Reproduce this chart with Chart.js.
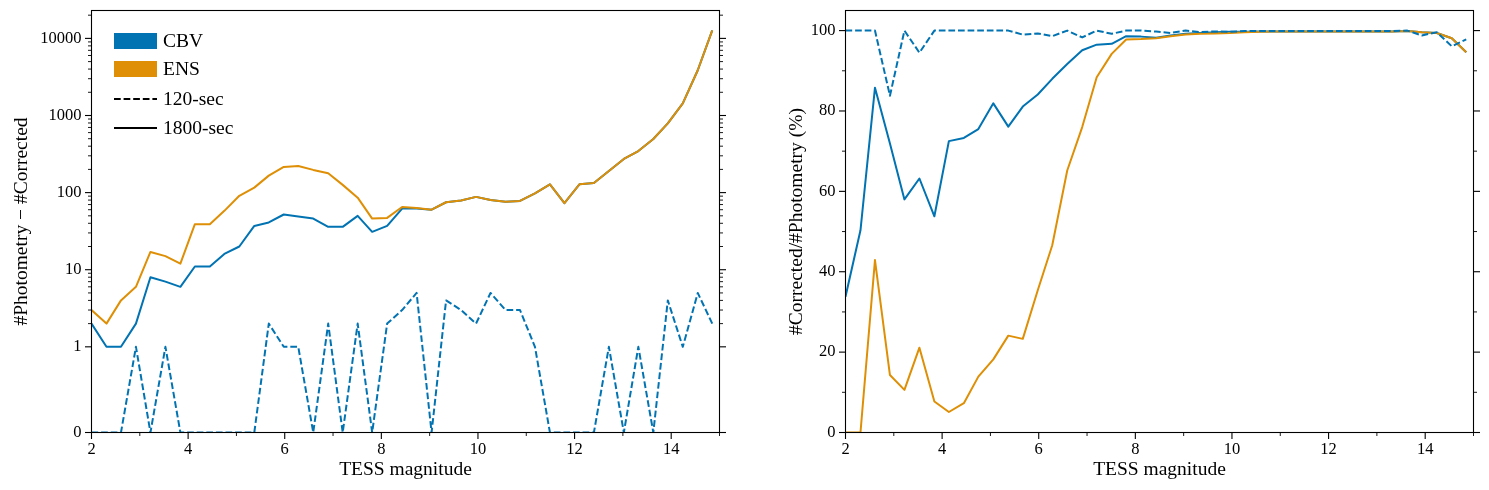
<!DOCTYPE html>
<html><head><meta charset="utf-8">
<script src="https://cdn.jsdelivr.net/npm/chart.js@4"></script>
<style>
html,body{margin:0;padding:0;background:#fff;}
#wrap{position:relative;width:1489px;height:490px;overflow:hidden;}
canvas{position:absolute;top:0;}
</style></head><body>
<div id="wrap">
<canvas id="left" width="745" height="490" style="left:0;width:745px;height:490px"></canvas>
<canvas id="right" width="744" height="490" style="left:745px;width:744px;height:490px"></canvas>
</div>
<script>
// ---------- data ----------
const magnitudes = [2.00, 2.31, 2.61, 2.92, 3.22, 3.53, 3.84, 4.14, 4.45, 4.75,
  5.06, 5.37, 5.67, 5.98, 6.28, 6.59, 6.90, 7.20, 7.51, 7.81,
  8.12, 8.43, 8.73, 9.04, 9.34, 9.65, 9.96, 10.26, 10.57, 10.87,
  11.18, 11.49, 11.79, 12.10, 12.40, 12.71, 13.02, 13.32, 13.63, 13.93,
  14.24, 14.55, 14.85];

// Left panel: #Photometry - #Corrected
const cbvMissing1800 = [2, 1, 1, 2, 8, 7, 6, 11, 11, 16,
  20, 37, 41, 52, 49, 46, 36, 36, 50, 31,
  37, 62, 62, 60, 75, 79, 88, 80, 76, 78,
  98, 128, 73, 128, 133, 191, 273, 346, 495, 790,
  1435, 3866, 12730];
const ensMissing1800 = [3, 2, 4, 6, 17, 15, 12, 39, 39, 58,
  91, 116, 166, 215, 221, 197, 178, 126, 86, 46,
  47, 65, 63, 60, 75, 79, 88, 80, 76, 78,
  98, 128, 73, 128, 133, 191, 273, 346, 495, 790,
  1435, 3866, 12730];
const cbvMissing120 = [0, 0, 0, 1, 0, 1, 0, 0, 0, 0,
  0, 0, 2, 1, 1, 0, 2, 0, 2, 0,
  2, 3, 5, 0, 4, 3, 2, 5, 3, 3,
  1, 0, 0, 0, 0, 1, 0, 1, 0, 4,
  1, 5, 2];

// Right panel: #Corrected / #Photometry (%)
const cbvPct1800 = [33.8, 50.3, 85.8, 71.9, 58.0, 63.2, 53.8, 72.5, 73.3, 75.5,
  81.9, 76.1, 81.1, 84.1, 88.0, 91.7, 95.1, 96.5, 96.7, 98.6,
  98.5, 98.2, 98.8, 99.2, 99.4, 99.6, 99.7, 99.7, 99.8, 99.8,
  99.8, 99.8, 99.8, 99.8, 99.8, 99.8, 99.8, 99.8, 99.9, 99.6,
  99.4, 98.1, 94.6];
const ensPct1800 = [0, 0, 42.9, 14.3, 10.6, 21.1, 7.7, 5.1, 7.3, 13.9,
  18.2, 24.1, 23.3, 35.4, 46.6, 65.2, 76.0, 88.4, 94.2, 97.8,
  97.9, 98.1, 98.6, 99.0, 99.2, 99.3, 99.4, 99.6, 99.7, 99.8,
  99.8, 99.8, 99.8, 99.8, 99.8, 99.8, 99.8, 99.8, 99.9, 99.6,
  99.4, 98.1, 94.6];
const cbvPct120 = [100, 100, 100, 83.8, 100, 94.5, 100, 100, 100, 100,
  100, 100, 99.0, 99.3, 98.6, 100, 98.3, 100, 99.2, 100,
  100, 99.75, 99.4, 100, 99.6, 99.8, 99.7, 99.9, 99.9, 99.9,
  99.9, 99.9, 99.9, 99.9, 99.9, 99.9, 99.9, 99.9, 100, 98.8,
  99.6, 96.1, 97.8];

// ticks
const xMajorTicks = [2, 4, 6, 8, 10, 12, 14];
const xMinorTicks = [3, 5, 7, 9, 11, 13, 15];
const leftYMajorTicks = [0, 1, 10, 100, 1000, 10000];
const leftYMinorTicks = [2,3,4,5,6,7,8,9, 20,30,40,50,60,70,80,90,
  200,300,400,500,600,700,800,900, 2000,3000,4000,5000,6000,7000,8000,9000, 20000];
const rightYMajorTicks = [0, 20, 40, 60, 80, 100];
const rightYMinorTicks = [10, 30, 50, 70, 90];

const legendLabels = ['CBV', 'ENS', '120-sec', '1800-sec'];

// ---------- style ----------
const BLUE = '#0173B2', ORANGE = '#DE8F05';
const SERIF = '"Liberation Serif", "DejaVu Serif", serif';
const DASH = [6.7, 2.9];

// ---------- symlog scale (linthresh 1, linscale 1, base 10) ----------
const LINSCALE = 1 / (1 - 1 / 10);
function symlog(v) {
  const a = Math.abs(v), s = Math.sign(v);
  return a <= 1 ? v * LINSCALE : s * (LINSCALE + Math.log10(a));
}
function invSymlog(t) {
  const a = Math.abs(t), s = Math.sign(t);
  return a <= LINSCALE ? t / LINSCALE : s * Math.pow(10, a - LINSCALE);
}
class SymlogScale extends Chart.LinearScale {
  configure() {
    super.configure();
    this._tS = symlog(this.min);
    this._tE = symlog(this.max);
  }
  getPixelForValue(value) {
    return this.getPixelForDecimal((symlog(value) - this._tS) / (this._tE - this._tS));
  }
  getValueForPixel(pixel) {
    return invSymlog(this._tS + this.getDecimalForPixel(pixel) * (this._tE - this._tS));
  }
}
SymlogScale.id = 'symlog';
SymlogScale.defaults = Chart.LinearScale.defaults;
Chart.register(SymlogScale);

function pts(arr) { return magnitudes.map((m, i) => ({x: m, y: arr[i]})); }

function frameTicks(yMajor, yMinor) {
  return {
    id: 'frameTicks',
    afterDatasetsDraw(chart) {
      const {ctx, chartArea: a, scales} = chart;
      const xs = scales.x, ys = scales.y;
      ctx.save();
      ctx.strokeStyle = '#000';
      ctx.lineWidth = 1.1;
      ctx.strokeRect(a.left, a.top, a.right - a.left, a.bottom - a.top);
      const line = (x1, y1, x2, y2) => { ctx.beginPath(); ctx.moveTo(x1, y1); ctx.lineTo(x2, y2); ctx.stroke(); };
      [[xMajorTicks, 6.5, 1.1], [xMinorTicks, 3.5, 0.9]].forEach(([vals, len, w]) => {
        ctx.lineWidth = w;
        vals.forEach(v => {
          const p = xs.getPixelForValue(v);
          if (p < a.left - 0.6 || p > a.right + 0.6) return;
          line(p, a.bottom, p, a.bottom + len);
        });
      });
      [[yMajor, 6.5, 1.1], [yMinor, 3.5, 0.9]].forEach(([vals, len, w]) => {
        ctx.lineWidth = w;
        vals.forEach(v => {
          const p = ys.getPixelForValue(v);
          if (p < a.top - 0.6 || p > a.bottom + 0.6) return;
          line(a.left, p, a.left - len, p);
          line(a.right, p, a.right + len, p);
        });
      });
      ctx.restore();
    }
  };
}

const legendPlugin = {
  id: 'insideLegend',
  afterDraw(chart) {
    const {ctx, chartArea: a} = chart;
    const x0 = a.left + 22.5, x1 = a.left + 65.5;
    const rows = [a.top + 30.5, a.top + 58.5, a.top + 88.5, a.top + 117.5];
    ctx.save();
    ctx.fillStyle = BLUE;
    ctx.fillRect(x0, rows[0] - 8, x1 - x0, 16);
    ctx.fillStyle = ORANGE;
    ctx.fillRect(x0, rows[1] - 8, x1 - x0, 16);
    ctx.strokeStyle = '#000';
    ctx.lineWidth = 2;
    ctx.setLineDash(DASH);
    ctx.beginPath(); ctx.moveTo(x0, rows[2]); ctx.lineTo(x1, rows[2]); ctx.stroke();
    ctx.setLineDash([]);
    ctx.beginPath(); ctx.moveTo(x0, rows[3]); ctx.lineTo(x1, rows[3]); ctx.stroke();
    ctx.fillStyle = '#000';
    ctx.font = '19.5px ' + SERIF;
    ctx.textBaseline = 'middle';
    ctx.textAlign = 'left';
    legendLabels.forEach((t, i) => ctx.fillText(t, x1 + 6, rows[i] + 1));
    ctx.restore();
  }
};

function xScale() {
  return {
    type: 'linear', min: 2, max: 15, bounds: 'data',
    grid: {display: false, drawTicks: false},
    border: {display: false},
    afterBuildTicks: s => { s.ticks = xMajorTicks.map(v => ({value: v})); },
    afterFit: s => { s.height = 57.5; s.paddingLeft = 0; s.paddingRight = 0; },
    ticks: {autoSkip: false, maxRotation: 0, padding: 7, color: '#000',
      font: {family: SERIF, size: 16.5}, callback: v => String(v)},
    title: {display: true, text: 'TESS magnitude', color: '#000',
      font: {family: SERIF, size: 19.5}, padding: {top: 0, bottom: 8}}
  };
}

function lineDs(arr, color, dashed, order) {
  return {data: pts(arr), borderColor: color, backgroundColor: color, borderWidth: 2,
    borderDash: dashed ? DASH : [], borderJoinStyle: 'round', pointRadius: 0,
    tension: 0, fill: false, order: order};
}

new Chart(document.getElementById('left'), {
  type: 'line',
  data: {datasets: [
    lineDs(cbvMissing1800, BLUE, false, 2),
    lineDs(ensMissing1800, ORANGE, false, 1),
    lineDs(cbvMissing120, BLUE, true, 0)
  ]},
  options: {
    responsive: false, animation: false, events: [], devicePixelRatio: 1,
    layout: {padding: {left: 0, right: 25.5, top: 10.5, bottom: 0}},
    plugins: {legend: {display: false}, tooltip: {enabled: false}},
    scales: {
      x: xScale(),
      y: {
        type: 'symlog', min: 0, max: 23000, bounds: 'data',
        grid: {display: false, drawTicks: false}, border: {display: false},
        afterBuildTicks: s => { s.ticks = leftYMajorTicks.map(v => ({value: v})); },
        afterFit: s => { s.width = 91.5; s.paddingTop = 0; s.paddingBottom = 0; },
        ticks: {autoSkip: false, padding: 10, color: '#000',
          font: {family: SERIF, size: 16.5}, callback: v => String(v)},
        title: {display: true, text: '#Photometry \u2212 #Corrected', color: '#000',
          font: {family: SERIF, size: 19.5}, padding: {top: 10, bottom: 0}}
      }
    }
  },
  plugins: [frameTicks(leftYMajorTicks, leftYMinorTicks), legendPlugin]
});

new Chart(document.getElementById('right'), {
  type: 'line',
  data: {datasets: [
    lineDs(cbvPct1800, BLUE, false, 2),
    lineDs(ensPct1800, ORANGE, false, 1),
    lineDs(cbvPct120, BLUE, true, 0)
  ]},
  options: {
    responsive: false, animation: false, events: [], devicePixelRatio: 1,
    layout: {padding: {left: 0, right: 15.5, top: 10.5, bottom: 0}},
    plugins: {legend: {display: false}, tooltip: {enabled: false}},
    scales: {
      x: xScale(),
      y: {
        type: 'linear', min: 0, max: 105, bounds: 'data',
        grid: {display: false, drawTicks: false}, border: {display: false},
        afterBuildTicks: s => { s.ticks = rightYMajorTicks.map(v => ({value: v})); },
        afterFit: s => { s.width = 100.5; s.paddingTop = 0; s.paddingBottom = 0; },
        ticks: {autoSkip: false, padding: 10, color: '#000',
          font: {family: SERIF, size: 16.5}, callback: v => String(v)},
        title: {display: true, text: '#Corrected/#Photometry (%)', color: '#000',
          font: {family: SERIF, size: 19.5}, padding: {top: 40, bottom: 0}}
      }
    }
  },
  plugins: [frameTicks(rightYMajorTicks, rightYMinorTicks)]
});
</script>
</body></html>
